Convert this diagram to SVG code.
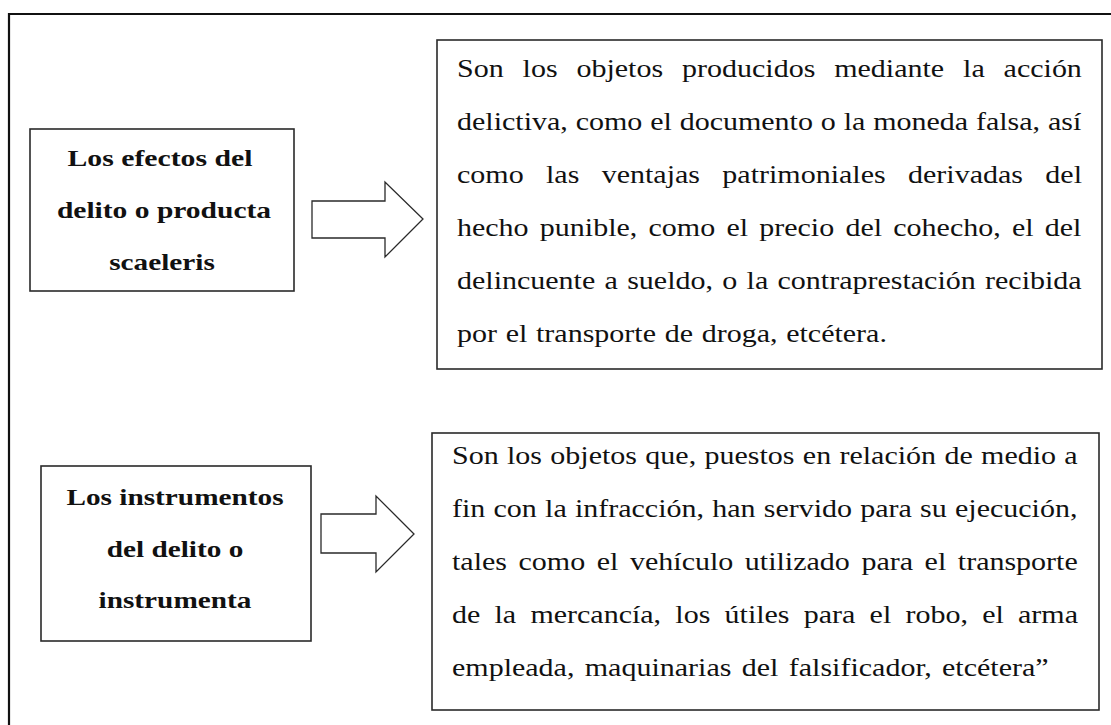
<svg xmlns="http://www.w3.org/2000/svg" width="1111" height="725" viewBox="0 0 1111 725">
<style>
.frame{fill:none;stroke:#111;stroke-width:2.2}
.box{fill:#fff;stroke:#2a2a2a;stroke-width:1.6}
.arrow{fill:#fff;stroke:#2a2a2a;stroke-width:1.3;stroke-linejoin:miter}
.lbl{font-family:"Liberation Serif","Times New Roman",serif;font-weight:bold;font-size:24px;fill:#111;text-anchor:middle}
.body{font-family:"Liberation Serif","Times New Roman",serif;font-size:25px;fill:#111}
</style>
<rect width="1111" height="725" fill="#fff"/>
<path class="frame" d="M9,726 V14 H1112"/>

<g id="node-efectos">
<rect class="box" x="30" y="129" width="264" height="162"/>
<text class="lbl" transform="translate(160,166) scale(1.24,1)">Los efectos del</text>
<text class="lbl" transform="translate(164,218) scale(1.23,1)">delito o producta</text>
<text class="lbl" transform="translate(162,270) scale(1.22,1)">scaeleris</text>
</g>

<g id="node-efectos-def">
<rect class="box" x="437" y="40" width="665" height="329"/>
<text class="body" transform="translate(457,77) scale(1.2,1)" word-spacing="9.5">Son los objetos producidos mediante la acción</text>
<text class="body" transform="translate(457,130) scale(1.2,1)" word-spacing="0.3">delictiva, como el documento o la moneda falsa, así</text>
<text class="body" transform="translate(457,183) scale(1.2,1)" word-spacing="12.4">como las ventajas patrimoniales derivadas del</text>
<text class="body" transform="translate(457,236) scale(1.2,1)" word-spacing="3.1">hecho punible, como el precio del cohecho, el del</text>
<text class="body" transform="translate(457,289) scale(1.2,1)" word-spacing="1.5">delincuente a sueldo, o la contraprestación recibida</text>
<text class="body" transform="translate(457,342) scale(1.2,1)" word-spacing="1">por el transporte de droga, etcétera.</text>
</g>

<g id="node-instrumentos">
<rect class="box" x="41" y="466" width="270" height="175"/>
<text class="lbl" transform="translate(175,505) scale(1.22,1)">Los instrumentos</text>
<text class="lbl" transform="translate(175,557) scale(1.22,1)">del delito o</text>
<text class="lbl" transform="translate(175,608) scale(1.22,1)">instrumenta</text>
</g>

<g id="node-instrumentos-def">
<rect class="box" x="432" y="433" width="667" height="277"/>
<text class="body" transform="translate(452,464) scale(1.2,1)" word-spacing="0.7">Son los objetos que, puestos en relación de medio a</text>
<text class="body" transform="translate(452,517) scale(1.2,1)" word-spacing="0.6">fin con la infracción, han servido para su ejecución,</text>
<text class="body" transform="translate(452,570) scale(1.2,1)" word-spacing="3.4">tales como el vehículo utilizado para el transporte</text>
<text class="body" transform="translate(452,623) scale(1.2,1)" word-spacing="5.6">de la mercancía, los útiles para el robo, el arma</text>
<text class="body" transform="translate(452,676) scale(1.2,1)" word-spacing="2.4">empleada, maquinarias del falsificador, etcétera”</text>
</g>

<g id="connectors">
<polygon class="arrow" points="312,201 385,201 385,182 423,219 385,257 385,238 312,238"/>
<polygon class="arrow" points="321,514 376,514 376,496 414,534 376,572 376,553 321,553"/>
</g>
</svg>
